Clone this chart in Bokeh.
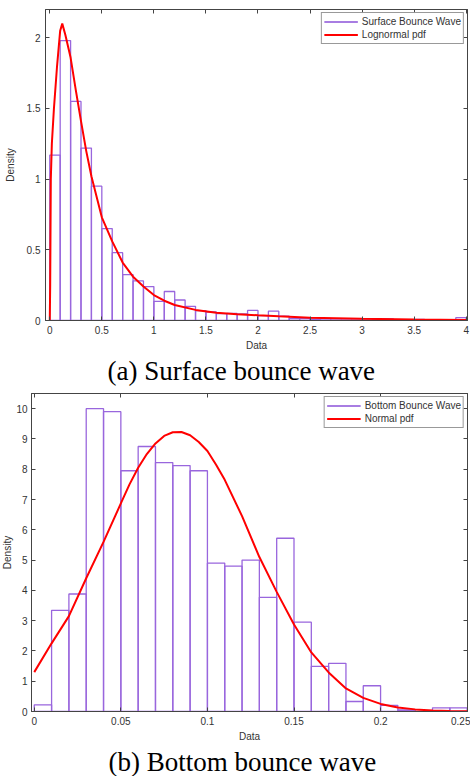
from bokeh.plotting import figure
from bokeh.models import (Range1d, LinearAxis, FixedTicker, Title, Legend, LegendItem,
                          ColumnDataSource, CustomLabelingPolicy)
from bokeh.embed import file_html
from bokeh.resources import INLINE

# ---------------- data ----------------
surf_bin_width = 0.1
surf_density = [1.17, 1.98, 1.55, 1.22, 0.95, 0.65, 0.48, 0.325, 0.28, 0.24,
                0.135, 0.205, 0.145, 0.10, 0.07, 0.06, 0.048, 0.05, 0.047, 0.071,
                0.035, 0.066, 0.03, 0.014, 0.014, 0.01, 0.012, 0.005, 0.005, 0.005,
                0.012, 0.008, 0.012, 0.004, 0.004, 0.008, 0.002, 0.003, 0.002, 0.02]
surf_pdf_x = [0.0, 0.004, 0.01, 0.02, 0.04, 0.07, 0.1, 0.12, 0.15, 0.2, 0.25, 0.3, 0.35,
              0.4, 0.5, 0.6, 0.7, 0.8, 0.9, 1.0, 1.1, 1.2, 1.4, 1.6, 1.8, 2.0, 2.2, 2.5,
              3.0, 3.5, 4.0]
surf_pdf_y = [0.0, 0.25, 1.0, 1.25, 1.5, 1.8, 2.05, 2.1, 2.02, 1.86, 1.63, 1.41, 1.2,
              1.02, 0.73, 0.56, 0.41, 0.31, 0.24, 0.18, 0.14, 0.11, 0.075, 0.055, 0.045,
              0.037, 0.03, 0.02, 0.012, 0.007, 0.004]

bott_bin_width = 0.01
bott_density = [0.22, 3.34, 3.88, 10.0, 9.9, 7.95, 8.75, 8.22, 8.12, 7.95,
                4.9, 4.8, 5.0, 3.77, 5.72, 2.95, 1.49, 1.59, 0.33, 0.85,
                0.2, 0.05, 0.0, 0.12, 0.12]
bott_pdf_x = [0.0, 0.01, 0.02, 0.03, 0.04, 0.05, 0.055, 0.06, 0.065, 0.07, 0.075, 0.08,
              0.085, 0.09, 0.095, 0.10, 0.105, 0.11, 0.12, 0.13, 0.14, 0.15, 0.16, 0.17,
              0.18, 0.19, 0.20, 0.21, 0.22, 0.23, 0.24, 0.25]
bott_pdf_y = [1.3, 2.25, 3.15, 4.4, 5.6, 6.87, 7.5, 8.05, 8.5, 8.85, 9.1, 9.22,
              9.23, 9.12, 8.9, 8.6, 8.15, 7.65, 6.45, 5.1, 3.95, 2.87, 1.95, 1.29,
              0.76, 0.45, 0.25, 0.13, 0.07, 0.035, 0.015, 0.008]

surf_xticks = [0, 0.5, 1, 1.5, 2, 2.5, 3, 3.5, 4]
surf_xtick_labels = ["0", "0.5", "1", "1.5", "2", "2.5", "3", "3.5", "4"]
surf_yticks = [0, 0.5, 1, 1.5, 2]
surf_ytick_labels = ["0", "0.5", "1", "1.5", "2"]
bott_xticks = [0, 0.05, 0.1, 0.15, 0.2, 0.25]
bott_xtick_labels = ["0", "0.05", "0.1", "0.15", "0.2", "0.25"]
bott_yticks = [0, 1, 2, 3, 4, 5, 6, 7, 8, 9, 10]
bott_ytick_labels = ["0", "1", "2", "3", "4", "5", "6", "7", "8", "9", "10"]

BAR_COLOR = "#9966dd"
PDF_COLOR = "#ff0000"
AX_COLOR = "#444444"
TXT_COLOR = "#333333"
SANS = "Liberation Sans"
SERIF = "Liberation Serif"

NO_LABELS = CustomLabelingPolicy(code="return new indices.constructor(indices.size)")


def style_axis(ax, ticks, labels, show_labels=True, standoff=5):
    ax.ticker = FixedTicker(ticks=ticks)
    ax.major_tick_in = 4
    ax.major_tick_out = 0
    ax.minor_tick_in = 0
    ax.minor_tick_out = 0
    ax.axis_line_color = AX_COLOR
    ax.major_tick_line_color = AX_COLOR
    ax.major_label_text_font = SANS
    ax.major_label_text_color = TXT_COLOR
    if show_labels:
        ax.major_label_overrides = dict(zip(ticks, labels))
        ax.major_label_text_font_size = "10px"
        ax.major_label_standoff = standoff
    else:
        ax.major_label_text_font_size = "0px"
        ax.major_label_standoff = 0
        ax.major_label_policy = NO_LABELS


def make_panel(width, height, xr, yr, border, edges_w, density, pdf_x, pdf_y,
               xticks, xlabels, yticks, ylabels, hist_label, pdf_label,
               caption, cap_offset, cap_standoff, ytick_standoff, ylab_standoff, styles):
    p = figure(width=width, height=height, x_range=Range1d(*xr), y_range=Range1d(*yr),
               output_backend="svg", toolbar_location=None, title=None,
               min_border_left=border[0], min_border_right=border[1],
               min_border_top=border[2], min_border_bottom=border[3],
               styles=styles)
    p.grid.visible = False
    p.outline_line_color = AX_COLOR
    p.background_fill_color = "white"
    p.border_fill_color = "white"

    lefts = [i * edges_w for i in range(len(density))]
    src = ColumnDataSource(dict(left=lefts, right=[l + edges_w for l in lefts],
                                top=density, bottom=[0] * len(density)))
    p.quad(left="left", right="right", top="top", bottom="bottom", source=src,
           fill_color=None, line_color=BAR_COLOR, line_width=1.3)
    pdf_r = p.line(pdf_x, pdf_y, line_color=PDF_COLOR, line_width=2)
    # legend-only line (MATLAB shows the histogram as a line sample)
    dummy = p.line(x=[float("nan")], y=[float("nan")], line_color=BAR_COLOR,
                   line_width=2, line_alpha=0.85)

    style_axis(p.xaxis[0], xticks, xlabels)
    style_axis(p.yaxis[0], yticks, ylabels, standoff=ytick_standoff)
    p.xaxis.axis_label = "Data"
    p.yaxis.axis_label = "Density"
    for ax in (p.xaxis[0], p.yaxis[0]):
        ax.axis_label_text_font = SANS
        ax.axis_label_text_font_size = "10px"
        ax.axis_label_text_font_style = "normal"
        ax.axis_label_text_color = TXT_COLOR
    p.xaxis[0].axis_label_standoff = 3
    p.yaxis[0].axis_label_standoff = ylab_standoff

    top_ax = LinearAxis()
    style_axis(top_ax, xticks, xlabels, show_labels=False)
    p.add_layout(top_ax, "above")
    right_ax = LinearAxis()
    style_axis(right_ax, yticks, ylabels, show_labels=False)
    p.add_layout(right_ax, "right")

    leg = Legend(items=[LegendItem(label=hist_label, renderers=[dummy]),
                        LegendItem(label=pdf_label, renderers=[pdf_r])],
                 location="top_right")
    leg.label_text_font = SANS
    leg.label_text_font_size = "10px"
    leg.label_text_color = TXT_COLOR
    leg.border_line_color = "#333333"
    leg.border_line_width = 1
    leg.background_fill_color = "white"
    leg.padding = 2
    leg.spacing = 0
    leg.margin = 3
    leg.glyph_width = 34
    leg.glyph_height = 13
    leg.label_height = 13
    leg.label_standoff = 4
    p.add_layout(leg)

    cap = Title(text=caption, text_font=SERIF, text_font_size="27px",
                text_font_style="normal", text_color="black", align="left",
                offset=cap_offset, standoff=cap_standoff)
    p.add_layout(cap, "below")
    return p


p1 = make_panel(470, 387, (-0.041, 4.0125), (0, 2.2), (45, 3, 9, 67), surf_bin_width,
                surf_density, surf_pdf_x, surf_pdf_y, surf_xticks, surf_xtick_labels,
                surf_yticks, surf_ytick_labels, "Surface Bounce Wave", "Lognormal pdf",
                "(a) Surface bounce wave", 62, 0, 5, 8, {})
# the lower panel sits slightly further left, as in the reference
p2 = make_panel(475, 389, (-0.0016, 0.2502), (0, 10.5), (36, 3, 6, 63), bott_bin_width,
                bott_density, bott_pdf_x, bott_pdf_y, bott_xticks, bott_xtick_labels,
                bott_yticks, bott_ytick_labels, "Bottom Bounce Wave", "Normal pdf",
                "(b) Bottom bounce wave", 77, 0, 4, 0, {"margin-left": "-5px"})

open("out.html", "w").write(file_html([p1, p2], INLINE))
